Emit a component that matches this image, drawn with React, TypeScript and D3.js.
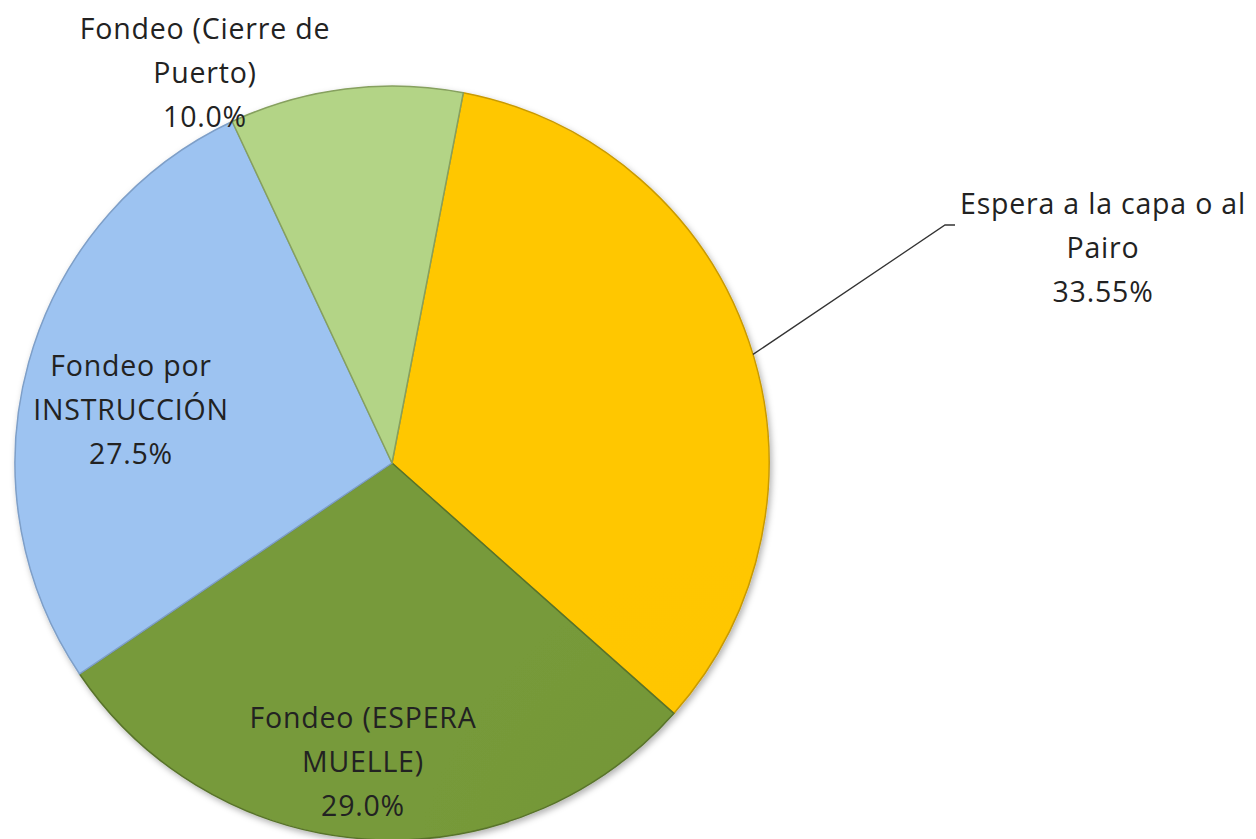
import React from "react";
import * as d3 from "d3";

const categories = [
  "Espera a la capa o al Pairo",
  "Fondeo (ESPERA MUELLE)",
  "Fondeo por INSTRUCCIÓN",
  "Fondeo (Cierre de Puerto)",
];
const values = [33.55, 29.0, 27.5, 10.0];
const labelLines = [
  ["Espera a la capa o al", "Pairo", "33.55%"],
  ["Fondeo (ESPERA", "MUELLE)", "29.0%"],
  ["Fondeo por", "INSTRUCCIÓN", "27.5%"],
  ["Fondeo (Cierre de", "Puerto)", "10.0%"],
];
const colors = ["#FFC705", "#779A3A", "#9DC3F1", "#B3D486"];
const innerColors = ["#FFC400", "#6F9232", "#98BEEC", "#8EA862"];
const strokeColors = ["#C99A00", "#58732A", "#7E9FC8", "#86A05E"];

const W = 1256;
const H = 839;
const cx = 392;
const cy = 463;
const R = 377;
const startDeg = 10.9;

// label layout: middle-line baseline offset from pie center
const labelOffsets = [
  { dx: 711, dy: -205 },
  { dx: -29, dy: 309 },
  { dx: -261, dy: -43 },
  { dx: -187, dy: -380 },
];

export default function App() {
  const start = (startDeg * Math.PI) / 180;
  const pie = d3
    .pie<number>()
    .sort(null)
    .value((d) => d)
    .startAngle(start)
    .endAngle(start + 2 * Math.PI);
  const arcs = pie(values);
  const arc = d3.arc<d3.PieArcDatum<number>>().innerRadius(0).outerRadius(R);

  const polar = (a: number, r: number) => [Math.sin(a) * r, -Math.cos(a) * r];

  const lineH = 44;
  const fontSize = 28.5;

  // leader for first slice (outside label)
  const a0 = arcs[0];
  const mid0 = (a0.startAngle + a0.endAngle) / 2 + (2 * Math.PI) / 180;
  const [lx0, ly0] = polar(mid0, R);
  const elbowX = labelOffsets[0].dx - 158;
  const elbowY = labelOffsets[0].dy - 33;

  return (
    <svg
      width={W}
      height={H}
      style={{ position: "absolute", left: 0, top: 0, display: "block", background: "#fff" }}
      fontFamily="'Open Sans', Lato, sans-serif"
    >
      <defs>
        <filter id="shadow" x="-10%" y="-10%" width="120%" height="120%">
          <feDropShadow dx="2" dy="3" stdDeviation="3" floodColor="#000" floodOpacity="0.3" />
        </filter>
        {arcs.map((a, i) => (
          <radialGradient
            key={i}
            id={`grad${i}`}
            gradientUnits="userSpaceOnUse"
            cx={cx}
            cy={cy}
            r={R}
          >
            <stop offset="0%" stopColor={innerColors[i]} />
            <stop offset="60%" stopColor={d3.interpolateRgb(innerColors[i], colors[i])(0.6)} />
            <stop offset="100%" stopColor={colors[i]} />
          </radialGradient>
        ))}
      </defs>
      <g transform={`translate(${cx},${cy})`} filter="url(#shadow)">
        {arcs.map((a, i) => (
          <path
            key={categories[i]}
            d={arc(a) || ""}
            fill={`url(#grad${i})`}
            stroke={strokeColors[i]}
            strokeWidth={1.5}
            strokeLinejoin="round"
          />
        ))}
      </g>
      <g transform={`translate(${cx},${cy})`}>
        <polyline
          points={`${lx0},${ly0} ${elbowX},${elbowY} ${elbowX + 10},${elbowY}`}
          fill="none"
          stroke="#333"
          strokeWidth={1.3}
        />
        {arcs.map((a, i) => {
          const { dx: x, dy: y } = labelOffsets[i];
          const lines = labelLines[i];
          return (
            <text
              key={i}
              x={x}
              y={y}
              textAnchor="middle"
              fontSize={fontSize}
              letterSpacing={0.8}
              fill="#222"
            >
              {lines.map((ln, j) => (
                <tspan key={j} x={x} y={y + (j - (lines.length - 1) / 2) * lineH}>
                  {ln}
                </tspan>
              ))}
            </text>
          );
        })}
      </g>
    </svg>
  );
}
